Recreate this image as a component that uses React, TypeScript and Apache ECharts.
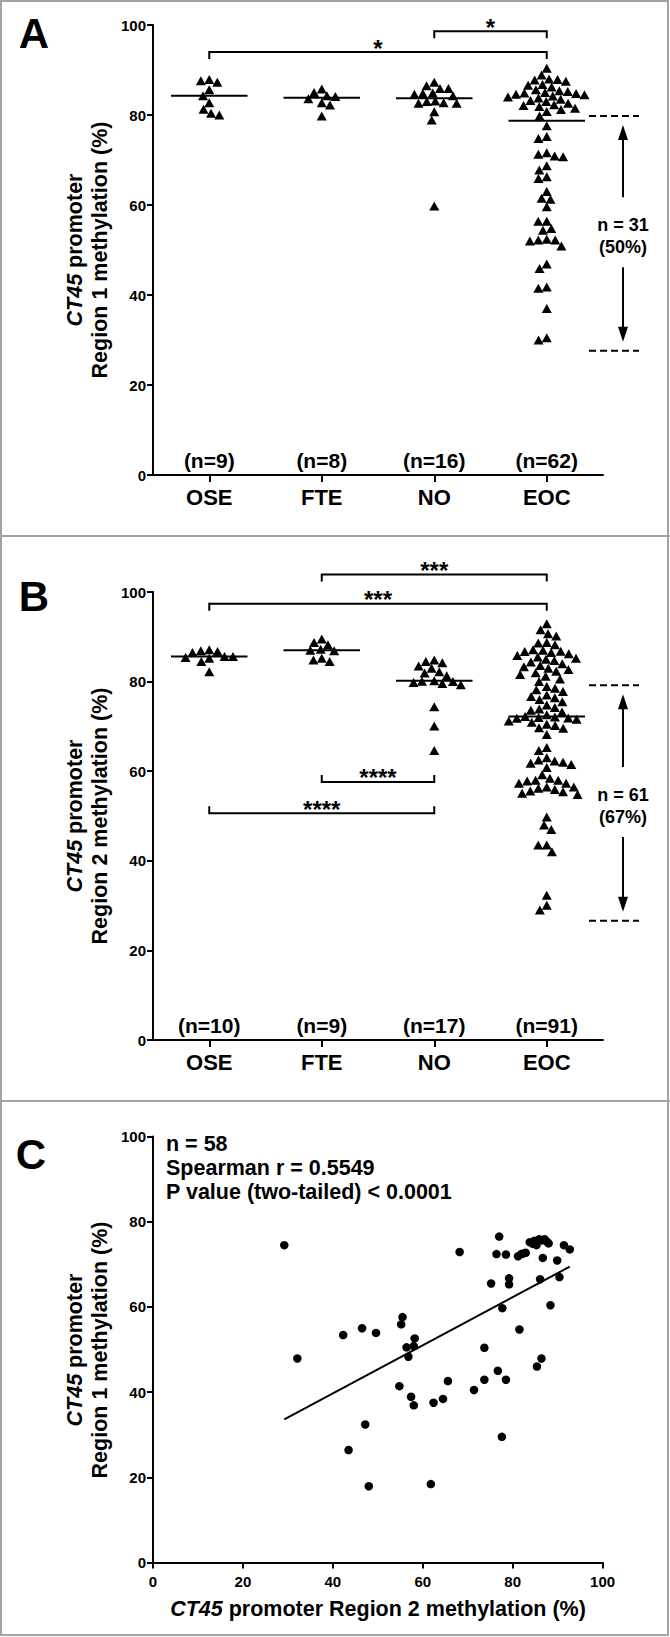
import React, { useEffect, useRef } from "react";
import * as echarts from "echarts";

// ---------- DATA ----------
const CATEGORIES = ["OSE", "FTE", "NO", "EOC"];

// Panel A: CT45 promoter Region 1 methylation (%)
const R1_OSE = [87.6, 87.9, 87.3, 85.6, 84.3, 82.7, 81.3, 80.0, 80.4];
const R1_FTE = [85.8, 85.0, 84.3, 84.1, 83.6, 82.7, 82.2, 79.8];
const R1_NO = [87.3, 86.5, 85.9, 85.9, 84.9, 84.8, 84.6, 84.3, 83.1, 83.0, 82.7, 82.6, 82.6, 80.7, 78.9, 59.8];
const R1_EOC = [
  90.4, 88.9, 88.0, 87.9, 87.8, 87.5, 86.8, 86.6, 86.2, 85.6, 85.4, 85.2, 85.0, 84.9, 84.8, 84.6,
  84.5, 84.2, 84.0, 83.8, 83.5, 83.2, 83.0, 82.6, 82.3, 82.1, 81.9, 81.5, 81.2, 80.8, 79.8,
  77.6, 75.2, 74.8, 71.6, 71.3, 70.9, 70.7, 68.7, 67.8, 66.3, 65.9, 63.0, 61.5, 61.3, 59.6, 56.4,
  56.4, 54.8, 54.4, 52.4, 52.2, 52.2, 52.0, 50.9, 46.9, 45.9, 41.8, 41.5, 37.0, 30.5, 30.0,
];

// Panel B: CT45 promoter Region 2 methylation (%)
const R2_OSE = [87.1, 86.9, 86.7, 86.5, 85.6, 85.6, 85.4, 85.2, 84.5, 82.2];
const R2_FTE = [89.5, 88.7, 88.2, 87.2, 87.0, 86.9, 85.2, 84.8, 84.5];
const R2_NO = [84.8, 84.5, 84.2, 83.5, 83.0, 82.2, 81.9, 81.3, 80.2, 80.1, 80.0, 79.8, 79.6, 79.3, 74.4, 70.1, 64.6];
const R2_EOC = [
  92.9, 91.6, 90.7, 90.2, 88.7, 88.6, 88.2, 87.1, 87.0, 86.8, 86.7, 86.5, 86.2, 85.8, 85.5, 85.2,
  85.0, 84.7, 84.4, 84.0, 83.6, 83.3, 83.0, 82.7, 82.3, 82.0, 81.6, 81.2, 80.6, 80.0,
  78.9, 78.5, 78.2, 77.8, 77.0, 76.7, 76.4, 76.0, 75.5, 74.8, 74.2, 73.9, 73.6, 73.2, 72.6, 72.2,
  72.1, 72.0, 71.9, 71.8, 71.6, 71.2, 70.9, 70.5, 70.2, 69.7, 69.6, 68.2, 65.3, 64.6, 63.0, 62.5,
  62.3, 62.0, 61.8, 61.5, 60.8, 59.2, 58.4, 58.0, 58.0, 57.8, 57.3, 57.3, 56.5, 56.5, 56.2, 55.9,
  55.6, 55.4, 55.1, 54.8, 49.8, 48.0, 47.0, 43.5, 43.5, 42.0, 32.3, 30.1, 29.0,
];

// significance brackets (category positions 1..4, level in %, dir 1 = ticks down, -1 = ticks up)
const A_BRACKETS = [
  { from: 3, to: 4, level: 98.6, stars: "*", dir: 1 },
  { from: 1, to: 4, level: 94.0, stars: "*", dir: 1 },
];
const B_BRACKETS = [
  { from: 2, to: 4, level: 103.9, stars: "***", dir: 1 },
  { from: 1, to: 4, level: 97.4, stars: "***", dir: 1 },
  { from: 2, to: 3, level: 57.6, stars: "****", dir: -1 },
  { from: 1, to: 3, level: 50.6, stars: "****", dir: -1 },
];
// EOC range annotations [upper, lower] in %
const A_RANGE = [79.8, 27.6];
const B_RANGE = [79.2, 26.6];

// Panel C: Region 2 (x) vs Region 1 (y)
const C_REGION2 = [
  29.2, 32.1, 42.3, 46.5, 49.6, 43.5, 47.2, 48.0, 55.5, 55.2, 56.4, 58.2, 58.0, 56.8, 54.8, 57.4,
  58.0, 62.4, 64.5, 65.6, 61.8, 68.2, 71.4, 73.7, 73.7, 75.2, 76.7, 77.0, 76.4, 78.5, 77.7, 77.6,
  78.5, 79.2, 79.2, 81.5, 81.2, 81.9, 82.9, 83.8, 84.8, 85.3, 85.9, 87.1, 88.0, 86.7, 86.1, 86.4,
  85.4, 88.4, 89.9, 90.4, 91.4, 92.7, 84.5, 86.5, 87.6, 82.3,
];
const C_REGION1 = [
  74.5, 47.9, 53.4, 55.0, 53.9, 26.4, 32.4, 17.9, 57.6, 55.9, 50.5, 52.6, 50.8, 48.3, 41.4, 38.9,
  36.9, 37.5, 38.4, 42.6, 18.4, 72.9, 40.5, 50.4, 42.9, 65.5, 45.0, 76.5, 72.4, 72.3, 59.7, 29.5,
  42.9, 66.7, 65.3, 54.7, 71.9, 72.4, 72.7, 75.2, 75.5, 74.5, 75.9, 75.9, 74.9, 71.5, 66.5, 47.9,
  46.0, 60.4, 70.9, 67.0, 74.5, 73.5, 74.8, 75.6, 75.3, 72.5,
];
const C_STATS = ["Spearman r = 0.5549", "P value (two-tailed) < 0.0001"];

// ---------- LAYOUT ----------
const W = 670;
const H = 1637;
const FONT = "'Liberation Sans', Arial, Helvetica, sans-serif";
const GRID_A = { left: 153, top: 25, width: 450, height: 450 };
const GRID_B = { left: 153, top: 592, width: 450, height: 448 };
const GRID_C = { left: 153, top: 1136.5, width: 449.6, height: 426 };
const BORDER = "#a3a3a3";

function median(a: number[]) {
  const s = [...a].sort((x, y) => x - y);
  const n = s.length;
  return n % 2 ? s[(n - 1) / 2] : (s[n / 2 - 1] + s[n / 2]) / 2;
}

// simple beeswarm: offsets in px
function swarm(values: number[], pxPerUnit: number, diam: number): number[] {
  const order = values.map((_, i) => i).sort((a, b) => values[b] - values[a]);
  const placed: { x: number; y: number }[] = [];
  const out = new Array(values.length).fill(0);
  for (const i of order) {
    const y = values[i] * pxPerUnit;
    const iv: [number, number][] = [];
    for (const p of placed) {
      const dy = Math.abs(p.y - y);
      if (dy < diam) {
        const h = Math.sqrt(diam * diam - dy * dy);
        iv.push([p.x - h, p.x + h]);
      }
    }
    const cands = [0];
    iv.forEach(([a, b]) => cands.push(a, b));
    cands.sort((a, b) => Math.abs(a) - Math.abs(b));
    let best = 0;
    for (const c of cands) {
      if (iv.every(([a, b]) => c <= a + 1e-6 || c >= b - 1e-6)) {
        best = c;
        break;
      }
    }
    placed.push({ x: best, y });
    out[i] = best;
  }
  return out;
}

function swarmData(groups: number[][], grid: { width: number; height: number }) {
  const pyu = grid.height / 100;
  const pxu = grid.width / 4;
  const data: number[][] = [];
  groups.forEach((g, gi) => {
    const offs = swarm(g, pyu, 8.5);
    g.forEach((v, k) => data.push([gi + 1 + offs[k] / pxu, v]));
  });
  return data;
}

const txt = (text: string, size: number, extra: any = {}) => ({
  text,
  fontSize: size,
  fontWeight: "bold",
  fontFamily: FONT,
  fill: "#000",
  align: "center",
  verticalAlign: "middle",
  ...extra,
});

function catXAxis(gridIndex: number) {
  return {
    gridIndex,
    type: "value",
    min: 0.5,
    max: 4.5,
    axisLine: { show: true, onZero: false, lineStyle: { color: "#000", width: 2 } },
    axisTick: { show: true, customValues: [1, 2, 3, 4], length: 7, lineStyle: { color: "#000", width: 2 } },
    axisLabel: {
      customValues: [1, 2, 3, 4],
      formatter: (v: number) => CATEGORIES[Math.round(v) - 1] || "",
      fontSize: 22,
      fontWeight: "bold",
      fontFamily: FONT,
      color: "#000",
      margin: 11,
    },
    splitLine: { show: false },
  };
}

function pctYAxis(gridIndex: number) {
  return {
    gridIndex,
    type: "value",
    min: 0,
    max: 100,
    interval: 20,
    axisLine: { show: true, onZero: false, lineStyle: { color: "#000", width: 2 } },
    axisTick: { show: true, length: 6, lineStyle: { color: "#000", width: 2 } },
    axisLabel: { fontSize: 15, fontWeight: "bold", fontFamily: FONT, color: "#000", margin: 7 },
    splitLine: { show: false },
  };
}

function panelSeries(idx: number, groups: number[][], grid: any, brackets: any[], range: number[]) {
  const eoc = groups[3];
  const count = eoc.filter((v) => v < range[0] && v > range[1]).length;
  const pct = Math.round((count / eoc.length) * 100);
  return [
    {
      type: "scatter",
      xAxisIndex: idx,
      yAxisIndex: idx,
      symbol: "triangle",
      symbolSize: [10, 9],
      itemStyle: { color: "#000", opacity: 1 },
      data: swarmData(groups, grid),
      z: 3,
    },
    {
      type: "custom",
      xAxisIndex: idx,
      yAxisIndex: idx,
      data: groups.map((g, i) => [i + 1, median(g)]),
      renderItem: (_p: any, api: any) => {
        const x = api.value(0);
        const m = api.value(1);
        const p1 = api.coord([x - 0.34, m]);
        const p2 = api.coord([x + 0.34, m]);
        return { type: "line", shape: { x1: p1[0], y1: p1[1], x2: p2[0], y2: p2[1] }, style: { stroke: "#000", lineWidth: 2 } };
      },
      z: 4,
    },
    {
      type: "custom",
      xAxisIndex: idx,
      yAxisIndex: idx,
      data: groups.map((g, i) => [i + 1, 0]),
      renderItem: (p: any, api: any) => {
        const pt = api.coord([api.value(0), 0]);
        return { type: "text", x: pt[0], y: pt[1] - 15, style: txt(`(n=${groups[p.dataIndex].length})`, 21) };
      },
    },
    {
      type: "custom",
      xAxisIndex: idx,
      yAxisIndex: idx,
      data: brackets.map((b) => [b.from, b.level]),
      renderItem: (p: any, api: any) => {
        const b = brackets[p.dataIndex];
        const p1 = api.coord([b.from, b.level]);
        const p2 = api.coord([b.to, b.level]);
        const t = 7 * b.dir;
        return {
          type: "group",
          children: [
            {
              type: "polyline",
              shape: { points: [[p1[0], p1[1] + t], p1, p2, [p2[0], p2[1] + t]] },
              style: { stroke: "#000", lineWidth: 2, fill: "none" },
            },
            { type: "text", x: (p1[0] + p2[0]) / 2, y: p1[1] - 4, style: txt(b.stars, 24) },
          ],
        };
      },
    },
    {
      type: "custom",
      xAxisIndex: idx,
      yAxisIndex: idx,
      data: [[4.5, range[0]]],
      renderItem: (_p: any, api: any) => {
        const up = api.coord([4.5, range[0]]);
        const yU = up[1];
        const yL = api.coord([4.5, range[1]])[1];
        const xr = up[0];
        const x1 = xr - 14;
        const x2 = xr + 36;
        const ax = xr + 20;
        const mid = (yU + yL) / 2;
        const dash = { stroke: "#000", lineWidth: 2, lineDash: [7, 4] };
        const solid = { stroke: "#000", lineWidth: 2 };
        return {
          type: "group",
          children: [
            { type: "line", shape: { x1, y1: yU, x2, y2: yU }, style: dash },
            { type: "line", shape: { x1, y1: yL, x2, y2: yL }, style: dash },
            { type: "line", shape: { x1: ax, y1: yU + 20, x2: ax, y2: mid - 36 }, style: solid },
            { type: "polygon", shape: { points: [[ax, yU + 9], [ax - 5, yU + 24], [ax + 5, yU + 24]] }, style: { fill: "#000" } },
            { type: "line", shape: { x1: ax, y1: mid + 34, x2: ax, y2: yL - 20 }, style: solid },
            { type: "polygon", shape: { points: [[ax, yL - 9], [ax - 5, yL - 24], [ax + 5, yL - 24]] }, style: { fill: "#000" } },
            { type: "text", x: ax, y: mid - 8, style: txt(`n = ${count}`, 18) },
            { type: "text", x: ax, y: mid + 14, style: txt(`(${pct}%)`, 18) },
          ],
        };
      },
    },
  ];
}

function regression(xs: number[], ys: number[]) {
  const n = xs.length;
  const mx = xs.reduce((a, b) => a + b, 0) / n;
  const my = ys.reduce((a, b) => a + b, 0) / n;
  let sxy = 0;
  let sxx = 0;
  for (let i = 0; i < n; i++) {
    sxy += (xs[i] - mx) * (ys[i] - my);
    sxx += (xs[i] - mx) ** 2;
  }
  const b = sxy / sxx;
  return { a: my - b * mx, b };
}

function buildOption() {
  const groupsA = [R1_OSE, R1_FTE, R1_NO, R1_EOC];
  const groupsB = [R2_OSE, R2_FTE, R2_NO, R2_EOC];
  const reg = regression(C_REGION2, C_REGION1);
  const xmin = Math.min(...C_REGION2);
  const xmax = Math.max(...C_REGION2);

  const richFor = (size: number) => ({
    i: { fontStyle: "italic", fontWeight: "bold", fontSize: size, fontFamily: FONT, lineHeight: 25, fill: "#000" },
  });
  const title = (text: string, size: number) => txt(text, size, { lineHeight: 25, rich: richFor(size) });

  return {
    animation: false,
    backgroundColor: "#fff",
    textStyle: { fontFamily: FONT },
    grid: [
      { ...GRID_A, containLabel: false },
      { ...GRID_B, containLabel: false },
      { ...GRID_C, containLabel: false },
    ],
    xAxis: [
      catXAxis(0),
      catXAxis(1),
      {
        gridIndex: 2,
        type: "value",
        min: 0,
        max: 100,
        interval: 20,
        axisLine: { show: true, onZero: false, lineStyle: { color: "#000", width: 2 } },
        axisTick: { show: true, length: 6, lineStyle: { color: "#000", width: 2 } },
        axisLabel: { fontSize: 15, fontWeight: "bold", fontFamily: FONT, color: "#000", margin: 11 },
        splitLine: { show: false },
      },
    ],
    yAxis: [pctYAxis(0), pctYAxis(1), pctYAxis(2)],
    series: [
      ...panelSeries(0, groupsA, GRID_A, A_BRACKETS, A_RANGE),
      ...panelSeries(1, groupsB, GRID_B, B_BRACKETS, B_RANGE),
      {
        type: "line",
        xAxisIndex: 2,
        yAxisIndex: 2,
        symbol: "none",
        lineStyle: { color: "#000", width: 2 },
        data: [
          [xmin, reg.a + reg.b * xmin],
          [xmax, reg.a + reg.b * xmax],
        ],
      },
      {
        type: "scatter",
        xAxisIndex: 2,
        yAxisIndex: 2,
        symbol: "circle",
        symbolSize: 8.5,
        itemStyle: { color: "#000", opacity: 1 },
        data: C_REGION2.map((x, i) => [x, C_REGION1[i]]),
      },
    ],
    graphic: [
      { type: "rect", shape: { x: 1, y: 1, width: 667, height: 1634 }, style: { fill: "none", stroke: BORDER, lineWidth: 2 }, z: -10 },
      { type: "line", shape: { x1: 0, y1: 536, x2: 670, y2: 536 }, style: { stroke: BORDER, lineWidth: 2 }, z: -10 },
      { type: "line", shape: { x1: 0, y1: 1101, x2: 670, y2: 1101 }, style: { stroke: BORDER, lineWidth: 2 }, z: -10 },
      { type: "text", x: 34, y: 33, style: txt("A", 42) },
      { type: "text", x: 34, y: 596, style: txt("B", 42) },
      { type: "text", x: 31, y: 1154, style: txt("C", 42) },
      { type: "text", x: 87.5, y: 250, rotation: Math.PI / 2, style: title("{i|CT45} promoter\nRegion 1 methylation (%)", 21.5) },
      { type: "text", x: 87.5, y: 816, rotation: Math.PI / 2, style: title("{i|CT45} promoter\nRegion 2 methylation (%)", 21.5) },
      { type: "text", x: 87.5, y: 1350, rotation: Math.PI / 2, style: title("{i|CT45} promoter\nRegion 1 methylation (%)", 21.5) },
      { type: "text", x: 378, y: 1609, style: title("{i|CT45} promoter Region 2 methylation (%)", 21.5) },
      { type: "text", x: 166, y: 1143.6, style: txt(`n = ${C_REGION1.length}`, 21.5, { align: "left" }) },
      { type: "text", x: 166, y: 1167.5, style: txt(C_STATS[0], 21.5, { align: "left" }) },
      { type: "text", x: 166, y: 1191.5, style: txt(C_STATS[1], 21.5, { align: "left" }) },
    ],
  };
}

export default function App() {
  const ref = useRef<HTMLDivElement>(null);
  useEffect(() => {
    const chart = echarts.init(ref.current!, undefined, { renderer: "svg" });
    chart.setOption(buildOption() as any);
    return () => chart.dispose();
  }, []);
  return (
    <div
      ref={ref}
      style={{ position: "absolute", left: 0, top: 0, width: W, height: H, background: "#fff" }}
    />
  );
}
